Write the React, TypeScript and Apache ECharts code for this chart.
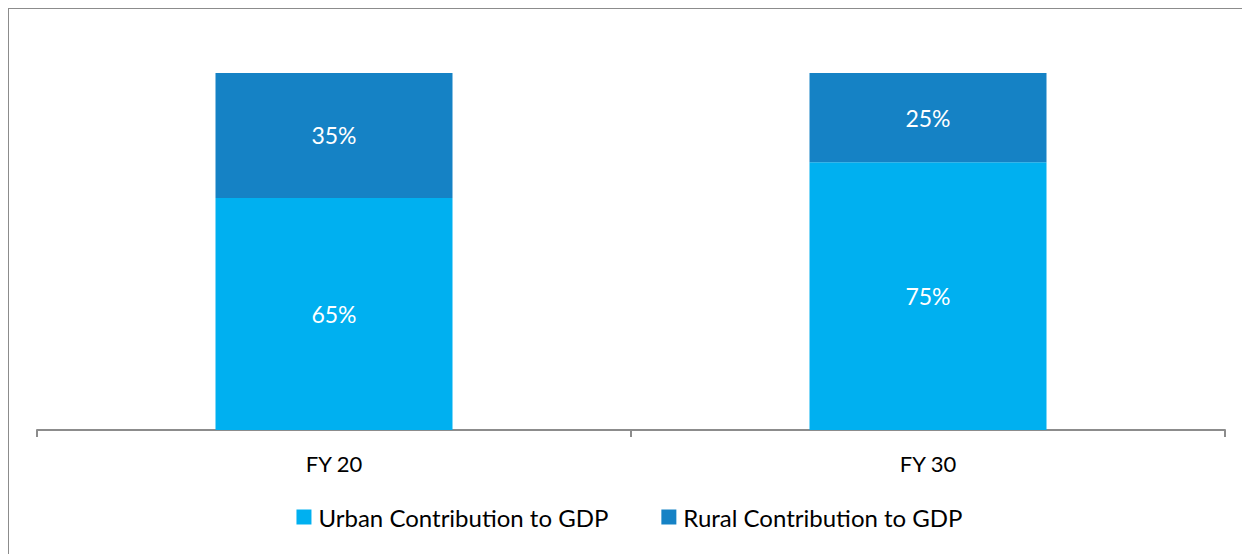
import React, { useEffect, useRef } from "react";
import * as echarts from "echarts";

const categories = ["FY 20", "FY 30"];
const urbanValues = [65, 75];
const ruralValues = [35, 25];
const seriesNames = ["Urban Contribution to GDP", "Rural Contribution to GDP"];

const FONT = "Lato, 'Open Sans', sans-serif";

export default function App() {
  const ref = useRef<HTMLDivElement>(null);
  useEffect(() => {
    if (!ref.current) return;
    const chart = echarts.init(ref.current, null, { renderer: "svg" });
    chart.setOption({
      animation: false,
      textStyle: { fontFamily: FONT },
      grid: { left: 28, right: 25, top: 64, bottom: 124 },
      legend: {
        bottom: 20,
        left: "center",
        itemWidth: 15,
        itemHeight: 15,
        itemGap: 53,
        icon: "rect",
        textStyle: { fontSize: 24, color: "#000", fontFamily: FONT, padding: [0, 0, 0, 2] },
        data: seriesNames,
      },
      xAxis: {
        type: "category",
        data: categories,
        axisLine: { lineStyle: { color: "#8c8c8c", width: 2 } },
        axisTick: { show: true, length: 7, lineStyle: { color: "#8c8c8c", width: 2 } },
        axisLabel: { fontSize: 22, color: "#000", margin: 22, fontFamily: FONT },
      },
      yAxis: {
        type: "value",
        min: 0,
        max: 100,
        show: false,
        splitLine: { show: false },
      },
      series: [
        {
          name: seriesNames[0],
          type: "bar",
          stack: "total",
          data: urbanValues,
          barWidth: 237,
          itemStyle: { color: "#00B0F0" },
          label: {
            show: true,
            position: "inside",
            formatter: "{c}%",
            color: "#fff",
            fontSize: 23,
            fontFamily: FONT,
          },
        },
        {
          name: seriesNames[1],
          type: "bar",
          stack: "total",
          data: ruralValues,
          barWidth: 237,
          itemStyle: { color: "#1582C5" },
          label: {
            show: true,
            position: "inside",
            formatter: "{c}%",
            color: "#fff",
            fontSize: 23,
            fontFamily: FONT,
          },
        },
      ],
    });
    return () => chart.dispose();
  }, []);
  return (
    <div
      style={{
        marginLeft: -1,
        marginTop: -1,
        borderTop: "2px solid #8c8c8c",
        borderLeft: "2px solid #8c8c8c",
        width: 1241,
        height: 545,
      }}
    >
      <div ref={ref} style={{ width: 1241, height: 545 }} />
    </div>
  );
}
